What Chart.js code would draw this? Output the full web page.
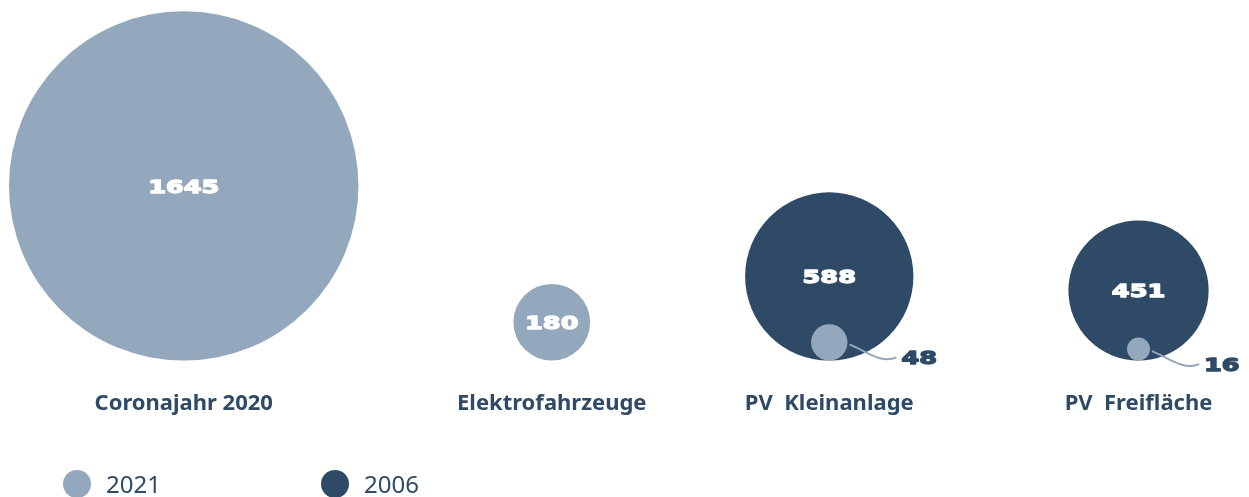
<!DOCTYPE html>
<html>
<head>
<meta charset="utf-8">
<script src="https://cdn.jsdelivr.net/npm/chart.js@4"></script>
<style>
  html, body { margin: 0; padding: 0; background: #ffffff; }
  #wrap { position: relative; width: 1249px; height: 497px; }
  #legend { position: absolute; left: 63px; top: 467px; display: flex; font-family: "Noto Sans", sans-serif; font-size: 24px; color: #2e4a66; }
  .item { display: flex; align-items: center; width: 258px; }
  .dot { width: 28px; height: 28px; border-radius: 50%; margin-right: 15px; }
</style>
</head>
<body>
<div id="wrap">
  <canvas id="bubbles" width="1249" height="497"></canvas>
  <div id="legend"></div>
</div>
<script>
// values
const categories = ["Coronajahr 2020", "Elektrofahrzeuge", "PV  Kleinanlage", "PV  Freifläche"];
const seriesNames = ["2021", "2006"];
const values2021 = [1645, 180, 48, 16];
const values2006 = [null, null, 588, 451];

const light = "#93a8bc";
const dark = "#2e4a66";

// bubble radius from value (not strictly by area, like the original graphic)
function radiusFor(v) {
    return 6.3 + 0.652 * Math.pow(v, 0.75);
}

// bubbles are packed left to right with an even gap between them
const groupRadius = categories.map((c, i) => Math.max(radiusFor(values2021[i] || 0), radiusFor(values2006[i] || 0)));
const centers = [];
let cursor = 9;
groupRadius.forEach((r, i) => {
    if (i > 0) cursor += 155;
    centers.push(cursor + r);
    cursor += 2 * r;
});

function toPoints(values) {
    const pts = [];
    values.forEach((v, i) => {
        if (v !== null) pts.push({ x: centers[i], y: 0, r: radiusFor(v), v: v });
    });
    return pts;
}

// bubble controller that does not reserve its biggest radius as padding round the chart
class FlatBubble extends Chart.BubbleController {
    getMaxOverflow() {
        return false;
    }
}
FlatBubble.id = "flatBubble";
FlatBubble.defaults = Chart.BubbleController.defaults;
Chart.register(FlatBubble);

// sit every bubble on the base line instead of centring it there
const bottomAlign = {
    id: "bottomAlign",
    afterDatasetsUpdate(chart) {
        const base = chart.scales.y.getPixelForValue(0);
        chart.data.datasets.forEach((ds, i) => {
            chart.getDatasetMeta(i).data.forEach(el => {
                el.y = base - el.options.radius;
            });
        });
    }
};

// wide heavy numbers
function wideText(ctx, text, x, y, align) {
    ctx.save();
    ctx.translate(x, y);
    ctx.scale(1.42, 1);
    ctx.textAlign = align;
    ctx.textBaseline = "middle";
    ctx.lineWidth = 1.3;
    ctx.lineJoin = "round";
    ctx.strokeStyle = ctx.fillStyle;
    ctx.fillText(text, 0, 0);
    ctx.strokeText(text, 0, 0);
    ctx.restore();
}

const valueLabels = {
    id: "valueLabels",
    afterDatasetsDraw(chart) {
        const ctx = chart.ctx;
        ctx.save();
        ctx.font = "bold 18px 'DejaVu Sans'";
        chart.data.datasets.forEach((ds, i) => {
            chart.getDatasetMeta(i).data.forEach((el, j) => {
                const v = ds.data[j].v;
                const r = el.options.radius;
                if (r > 25) {
                    ctx.fillStyle = "#ffffff";
                    wideText(ctx, String(v), el.x, el.y + 2, "center");
                } else {
                    // small bubble: label outside with a little curved line
                    const sx = el.x + r + 2, sy = el.y + 2;
                    ctx.strokeStyle = light;
                    ctx.lineWidth = 2;
                    ctx.beginPath();
                    ctx.moveTo(sx, sy);
                    ctx.bezierCurveTo(sx + 15, sy + 6, sx + 32, sy + 20, sx + 47, sy + 13);
                    ctx.stroke();
                    ctx.fillStyle = dark;
                    wideText(ctx, String(v), sx + 52, sy + 15, "left");
                }
            });
        });
        ctx.restore();
    }
};

const htmlLegend = {
    id: "htmlLegend",
    afterUpdate(chart) {
        const box = document.getElementById("legend");
        box.innerHTML = "";
        chart.data.datasets.forEach(ds => {
            const item = document.createElement("div");
            item.className = "item";
            item.innerHTML = `<span class="dot" style="background:${ds.backgroundColor}"></span><span>${ds.label}</span>`;
            box.appendChild(item);
        });
    }
};

new Chart("bubbles", {
    type: "flatBubble",
    data: {
        datasets: [
            { label: seriesNames[0], data: toPoints(values2021), backgroundColor: light, borderWidth: 0, clip: false },
            { label: seriesNames[1], data: toPoints(values2006), backgroundColor: dark, borderWidth: 0, clip: false }
        ]
    },
    options: {
        responsive: false,
        animation: false,
        events: [],
        layout: { padding: { left: 0, right: 0, top: 0, bottom: 58 } },
        plugins: {
            legend: { display: false },
            tooltip: { enabled: false }
        },
        scales: {
            x: {
                type: "linear",
                min: 0,
                max: 1249,
                grid: { display: false },
                border: { display: false },
                afterBuildTicks: axis => {
                    axis.ticks = centers.map(c => ({ value: c }));
                },
                ticks: {
                    autoSkip: false,
                    maxRotation: 0,
                    padding: 22,
                    color: dark,
                    font: { family: "'Noto Sans'", size: 22, weight: "bold" },
                    callback: (value, index) => categories[index]
                }
            },
            y: { type: "linear", display: false, min: 0, max: 1 }
        }
    },
    plugins: [bottomAlign, valueLabels, htmlLegend]
});
</script>
</body>
</html>
